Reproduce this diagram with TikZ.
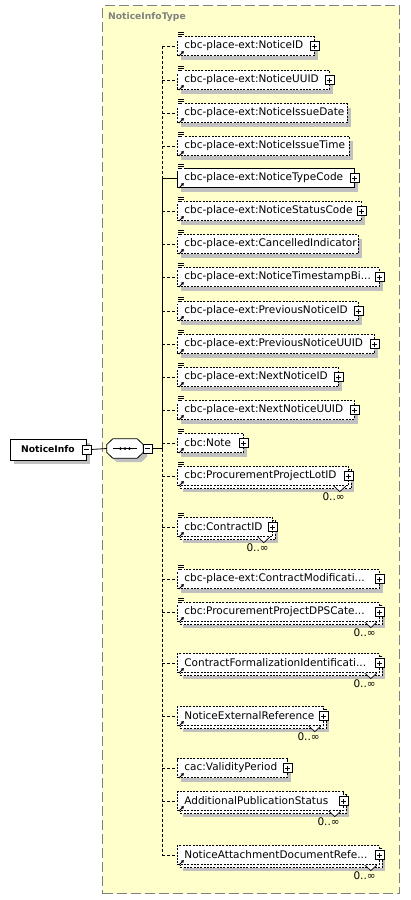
\documentclass[tikz,border=0pt]{standalone}
\usepackage{fontspec}
\setmainfont{DejaVu Sans}
\usetikzlibrary{shadows,arrows.meta,positioning}
\definecolor{typefill}{RGB}{255,255,204}
\definecolor{typeline}{RGB}{128,128,128}
\definecolor{shadowgray}{RGB}{192,192,192}
\exhyphenpenalty=10000
\hyphenpenalty=10000

\begin{document}
\begin{tikzpicture}[
    x=1pt, y=1pt,
    typebox/.style={rectangle, draw=typeline, fill=typefill, line width=1.2pt, dash pattern=on 10pt off 4pt, inner sep=0pt},
    typelabel/.style={font=\bfseries\fontsize{9.2}{11}\selectfont, text=typeline, inner sep=0pt, anchor=west},
    boxshadow/.style={drop shadow={shadow xshift=#1, shadow yshift=-#1, opacity=1, fill=shadowgray}},
    optline/.style={dash pattern=on 2pt off 1.3pt},
    conn/.style={line width=0.8pt},
    optconn/.style={conn, dash pattern=on 3pt off 2pt},
    plusbox/.style={draw, solid, fill=white, line width=0.7pt, minimum size=9pt, inner sep=0pt, anchor=center,
        path picture={\draw[line width=0.7pt] ([xshift=-2.5pt]path picture bounding box.center) -- ([xshift=2.5pt]path picture bounding box.center)
            ([yshift=-2.5pt]path picture bounding box.center) -- ([yshift=2.5pt]path picture bounding box.center);}},
    minusbox/.style={draw, solid, fill=white, line width=0.7pt, minimum size=9pt, inner sep=0pt, anchor=center,
        path picture={\draw[line width=0.7pt] ([xshift=-2.5pt]path picture bounding box.center) -- ([xshift=2.5pt]path picture bounding box.center);}},
    docicon/.style={anchor=center, xshift=3.5pt, yshift=0.8pt, minimum width=7pt, minimum height=6.5pt, inner sep=0pt,
        path picture={
            \fill[white] (path picture bounding box.south west) rectangle ([yshift=3pt]path picture bounding box.south east);
            \draw[line width=0.8pt] ([shift={(1pt,-0.7pt)}]path picture bounding box.north west) -- ++(5.5pt,0pt)
                ([shift={(1pt,-2.6pt)}]path picture bounding box.north west) -- ++(5.5pt,0pt)
                ([shift={(1pt,-4.5pt)}]path picture bounding box.north west) -- ++(4pt,0pt);}},
    arrowicon/.style={anchor=center, xshift=4.3pt, yshift=2.3pt, minimum size=5.5pt, inner sep=0pt,
        path picture={\draw[line width=0.9pt, -{Triangle[length=2.6pt, width=3.2pt]}] ([shift={(0.3pt,0.3pt)}]path picture bounding box.south west)
            -- ([shift={(-0.2pt,-0.2pt)}]path picture bounding box.north east);}},
    notch/.style={anchor=north, xshift=-9pt, minimum width=13pt, minimum height=6.5pt, inner sep=0pt,
        path picture={\draw[fill=white, line width=0.7pt] ([xshift=0.5pt]path picture bounding box.north west)
            -- ([yshift=1pt]path picture bounding box.south) -- ([xshift=-0.5pt]path picture bounding box.north east);}},
    occ/.style={anchor=north east, xshift=-4pt, yshift=-7pt, inner sep=0pt, font=\fontsize{10.5}{12}\selectfont},
    expand/.style={label={[plusbox]east:}},
    collapse/.style={label={[minusbox, xshift=#1]east:}},
    doc/.style={label={[docicon]north west:}},
    root/.style={draw, fill=white, line width=0.8pt, minimum width=76pt, minimum height=21pt, inner sep=0pt,
        font=\bfseries\fontsize{9.2}{11}\selectfont, boxshadow=4pt, collapse=0pt},
    seq/.style={rectangle, minimum width=36pt, minimum height=19pt, inner sep=0pt, collapse=4.5pt,
        append after command={\pgfextra{
            \fill[shadowgray, transform canvas={shift={(4pt,-4pt)}}] ([yshift=4pt]\tikzlastnode.west) -- ([xshift=6pt]\tikzlastnode.north west)
                -- ([xshift=-6pt]\tikzlastnode.north east) -- ([yshift=4pt]\tikzlastnode.east) -- ([yshift=-4pt]\tikzlastnode.east)
                -- ([xshift=-6pt]\tikzlastnode.south east) -- ([xshift=6pt]\tikzlastnode.south west) -- ([yshift=-4pt]\tikzlastnode.west) -- cycle;
            \draw[fill=white, line width=0.8pt] ([yshift=4pt]\tikzlastnode.west) -- ([xshift=6pt]\tikzlastnode.north west)
                -- ([xshift=-6pt]\tikzlastnode.north east) -- ([yshift=4pt]\tikzlastnode.east) -- ([yshift=-4pt]\tikzlastnode.east)
                -- ([xshift=-6pt]\tikzlastnode.south east) -- ([xshift=6pt]\tikzlastnode.south west) -- ([yshift=-4pt]\tikzlastnode.west) -- cycle;
            \draw[line width=0.8pt] ([xshift=-12pt]\tikzlastnode.center) -- ([xshift=12pt]\tikzlastnode.center);
            \fill ([xshift=-4.5pt]\tikzlastnode.center) circle (1.5pt) (\tikzlastnode.center) circle (1.5pt)
                ([xshift=4.5pt]\tikzlastnode.center) circle (1.5pt);}}},
    elem/.style={draw, fill=white, anchor=west, line width=0.8pt, optline, minimum height=19pt,
        inner xsep=7pt, inner ysep=0pt, align=left, font=\fontsize{10.5}{12}\selectfont,
        label={[arrowicon]south west:}},
    req/.style={solid},
    single/.style={boxshadow=4pt},
    multi/.style={boxshadow=6pt,
        general shadow={shadow xshift=3pt, shadow yshift=-3pt, draw=black, fill=white, line width=0.8pt, optline},
        label={[occ]south east:0..∞}, label={[notch]south east:}}
]
    \useasboundingbox (0,0) rectangle (410,-900);

    % Complex type frame
    \node[typebox, anchor=north west, minimum width=297pt, minimum height=888pt] (type) at (102,-5) {};
    \node[typelabel] (tlabel) at (108,-17) {NoticeInfoType};

    % Root element and sequence
    \node[root] (info) at (48,-449.5) {NoticeInfo};
    \node[seq] (seq) at (125,-448.5) {};
    \coordinate (jn) at (162,-448.5);

    % Children
    \node[elem, doc, single, expand, text width=123pt] (e1) at (177,-46) {cbc-place-ext:NoticeID};
    \node[elem, doc, single, expand, text width=138pt] (e2) at (177,-80) {cbc-place-ext:NoticeUUID};
    \node[elem, doc, single, text width=156pt] (e3) at (177,-113) {cbc-place-ext:NoticeIssueDate};
    \node[elem, doc, single, text width=158pt] (e4) at (177,-146) {cbc-place-ext:NoticeIssueTime};
    \node[elem, req, doc, single, expand, text width=163pt] (e5) at (177,-178) {cbc-place-ext:NoticeTypeCode};
    \node[elem, doc, single, expand, text width=170pt] (e6) at (177,-211) {cbc-place-ext:NoticeStatusCode};
    \node[elem, doc, single, text width=167pt] (e7) at (177,-244) {cbc-place-ext:CancelledIndicator};
    \node[elem, doc, single, expand, text width=188pt] (e8) at (177,-277) {cbc-place-ext:NoticeTimestampBi...};
    \node[elem, doc, single, expand, text width=167pt] (e9) at (177,-311) {cbc-place-ext:PreviousNoticeID};
    \node[elem, doc, single, expand, text width=183pt] (e10) at (177,-344) {cbc-place-ext:PreviousNoticeUUID};
    \node[elem, doc, single, expand, text width=147pt] (e11) at (177,-377) {cbc-place-ext:NextNoticeID};
    \node[elem, doc, single, expand, text width=163pt] (e12) at (177,-410) {cbc-place-ext:NextNoticeUUID};
    \node[elem, doc, single, expand, text width=52pt] (e13) at (177,-443) {cbc:Note};
    \node[elem, doc, multi, expand, text width=157pt] (e14) at (177,-476) {cbc:ProcurementProjectLotID};
    \node[elem, doc, multi, expand, text width=81pt] (e15) at (177,-527) {cbc:ContractID};
    \node[elem, doc, single, expand, text width=188pt] (e16) at (177,-579) {cbc-place-ext:ContractModificati...};
    \node[elem, doc, multi, expand, text width=188pt] (e17) at (177,-612) {cbc:ProcurementProjectDPSCate...};
    \node[elem, multi, expand, text width=188pt] (e18) at (177,-663) {ContractFormalizationIdentificati...};
    \node[elem, multi, expand, text width=132pt] (e19) at (177,-716) {NoticeExternalReference};
    \node[elem, single, expand, text width=96pt] (e20) at (177,-768) {cac:ValidityPeriod};
    \node[elem, multi, expand, text width=152pt] (e21) at (177,-801) {AdditionalPublicationStatus};
    \node[elem, multi, expand, text width=188pt] (e22) at (177,-855) {NoticeAttachmentDocumentRefe...};

    % Edges
    \draw[conn] ([xshift=4.5pt]info.east) -- (seq.west);
    \draw[conn] ([xshift=9pt]seq.east) -- (jn);
    \draw[optconn] (jn |- e1) -- (jn |- e5);
    \draw[conn] (jn |- e5) -- (jn);
    \draw[optconn] (jn) -- (jn |- e22);
    \draw[optconn] (jn |- e1) -- (e1);
    \draw[optconn] (jn |- e2) -- (e2);
    \draw[optconn] (jn |- e3) -- (e3);
    \draw[optconn] (jn |- e4) -- (e4);
    \draw[conn] (jn |- e5) -- (e5);
    \draw[optconn] (jn |- e6) -- (e6);
    \draw[optconn] (jn |- e7) -- (e7);
    \draw[optconn] (jn |- e8) -- (e8);
    \draw[optconn] (jn |- e9) -- (e9);
    \draw[optconn] (jn |- e10) -- (e10);
    \draw[optconn] (jn |- e11) -- (e11);
    \draw[optconn] (jn |- e12) -- (e12);
    \draw[optconn] (jn |- e13) -- (e13);
    \draw[optconn] (jn |- e14) -- (e14);
    \draw[optconn] (jn |- e15) -- (e15);
    \draw[optconn] (jn |- e16) -- (e16);
    \draw[optconn] (jn |- e17) -- (e17);
    \draw[optconn] (jn |- e18) -- (e18);
    \draw[optconn] (jn |- e19) -- (e19);
    \draw[optconn] (jn |- e20) -- (e20);
    \draw[optconn] (jn |- e21) -- (e21);
    \draw[optconn] (jn |- e22) -- (e22);
\end{tikzpicture}
\end{document}
